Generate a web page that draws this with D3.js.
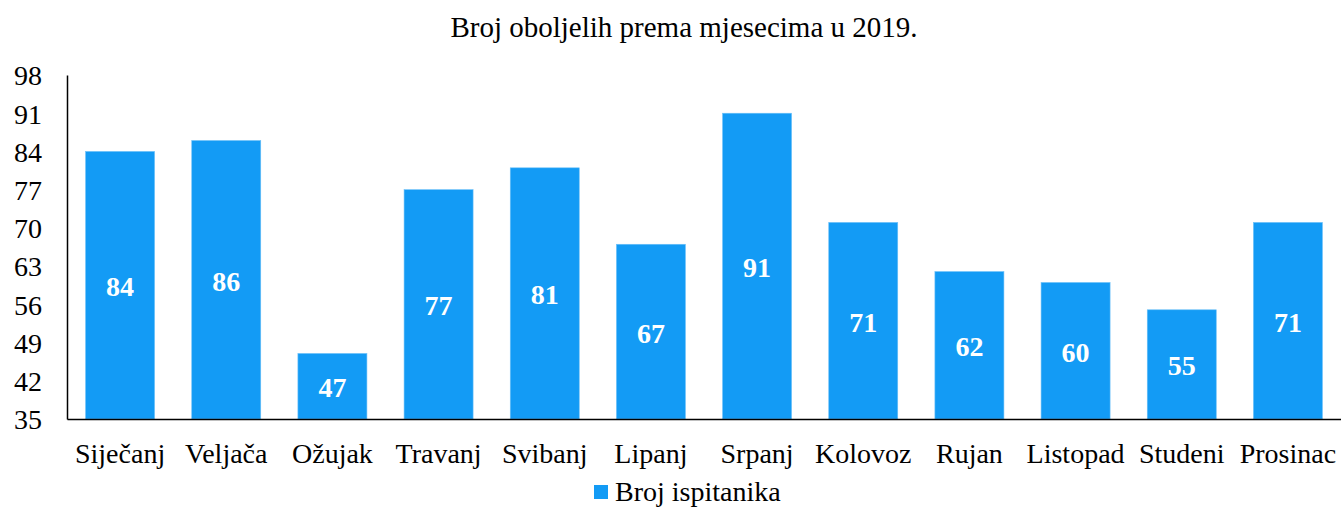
<!DOCTYPE html>
<html><head><meta charset="utf-8">
<script src="https://cdn.jsdelivr.net/npm/d3@7"></script>
<style>body{margin:0;background:#fff}svg{display:block}</style>
</head><body>
<svg id="c" width="1341" height="507"></svg>
<script>
const categories = ["Siječanj","Veljača","Ožujak","Travanj","Svibanj","Lipanj","Srpanj","Kolovoz","Rujan","Listopad","Studeni","Prosinac"];
const values = [84,86,47,77,81,67,91,71,62,60,55,71];
const yTicks = [35,42,49,56,63,70,77,84,91,98];
const seriesName = "Broj ispitanika";
const title = "Broj oboljelih prema mjesecima u 2019.";

const svg = d3.select("#c");
const font = "Liberation Serif, Times New Roman, serif";
const m = {l:67, r:1341, t:75, b:419};
const x = d3.scaleBand().domain(categories).range([m.l, m.r]).paddingInner(0.35).paddingOuter(0.175);
const y = d3.scaleLinear().domain([35,98]).range([m.b, m.t]);
const color = "#139bf5";

svg.append("text").attr("x",684).attr("y",37).attr("text-anchor","middle")
  .style("font-family",font).style("font-size","29px").text(title);

svg.selectAll("rect.bar").data(values).join("rect").attr("class","bar")
  .attr("x",(d,i)=>x(categories[i])).attr("width",x.bandwidth())
  .attr("y",d=>y(d)).attr("height",d=>y(35)-y(d))
  .attr("fill",color).attr("stroke","#6cc0f8").attr("stroke-width",0.6);

svg.selectAll("text.val").data(values).join("text").attr("class","val")
  .attr("x",(d,i)=>x(categories[i])+x.bandwidth()/2)
  .attr("y",d=>(y(d)+y(35))/2+11).attr("text-anchor","middle")
  .style("font-family",font).style("font-weight","bold").style("font-size","28px")
  .attr("fill","#fff").text(d=>d);

const ya = d3.axisLeft(y).tickValues(yTicks).tickSize(0).tickPadding(25);
const gy = svg.append("g").attr("transform",`translate(${m.l},0)`).call(ya);
gy.select(".domain").attr("stroke","#000").attr("stroke-width",1.5);
gy.selectAll("text").style("font-family",font).style("font-size","28px").attr("fill","#000").attr("dy","0.35em");

const xa = d3.axisBottom(x).tickSize(0).tickPadding(0);
const gx = svg.append("g").attr("transform",`translate(0,${m.b})`).call(xa);
gx.select(".domain").attr("stroke","#000").attr("stroke-width",1.5);
gx.selectAll("text").style("font-family",font).style("font-size","28px").attr("fill","#000")
  .attr("y",44).attr("dy",null);

const lg = svg.append("g");
lg.append("rect").attr("x",594).attr("y",485).attr("width",14).attr("height",14).attr("fill",color);
lg.append("text").attr("x",615).attr("y",501).style("font-family",font).style("font-size","28px").text(seriesName);
</script>
</body></html>
